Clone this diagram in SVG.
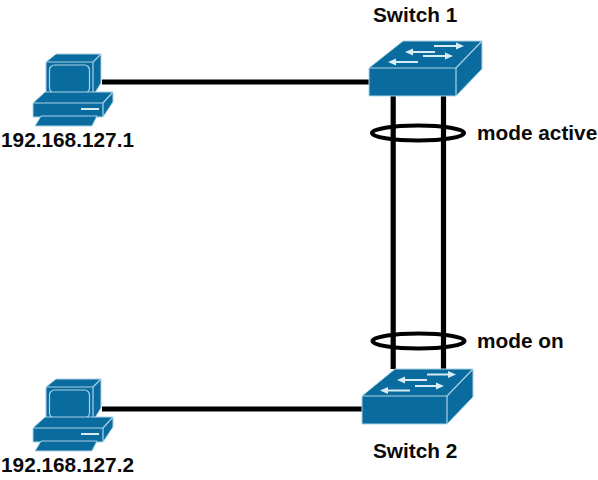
<svg xmlns="http://www.w3.org/2000/svg" xmlns:xlink="http://www.w3.org/1999/xlink" width="598" height="480" viewBox="0 0 598 480">
<style>
text{font-family:"Liberation Sans",Arial,sans-serif;font-weight:bold;font-size:20.8px;fill:#0a0a0a}
.b{fill:#0a6b9e;stroke:#a9d3e6;stroke-width:1;stroke-linejoin:round}
.w{fill:none;stroke:#a9d3e6;stroke-width:1.2}
.c{stroke:#000;stroke-width:5.2;fill:none}
.a{fill:#d8ecf4;stroke:none}
</style>
<defs>
<g id="pc">
<path class="b" d="M46 62L56 54H101V83L93 96H46Z"/>
<path class="w" d="M46 62H93V96M93 62L101 54"/>
<rect class="w" x="49.500" y="65" width="40" height="28" rx="5"/>
<path class="b" d="M33 103L45 92H113V102L103 117H33Z"/>
<path class="w" d="M33 103H103V117M103 103L113 92"/>
<path d="M81 109H99" stroke="#d8ecf4" stroke-width="2"/>
<path class="b" d="M41 116H97L92 126H35Z"/>
</g>
</defs>
<rect width="598" height="480" fill="#fff"/>
<g id="connectors">
<path class="c" d="M102 82H369M102 409H362"/>
<ellipse cx="418" cy="133" rx="46" ry="7.500" fill="none" stroke="#000" stroke-width="4"/>
<ellipse cx="418.500" cy="341" rx="46" ry="7.500" fill="none" stroke="#000" stroke-width="4"/>
<path class="c" d="M393.200 96V369M443.500 96V369"/>
</g>
<g id="pc1"><use xlink:href="#pc" href="#pc"/><text x="1" y="147">192.168.127.1</text></g>
<g id="pc2"><use xlink:href="#pc" href="#pc" y="325"/><text x="1" y="472">192.168.127.2</text></g>
<g id="switch1">
<path class="b" d="M369 68L403 41H482V69L456 96H369Z"/>
<path class="w" d="M369 68H456V96M456 68L482 41"/>
<path class="a" d="M434 45H456V42.500L464 46L456 49.500V47H434ZM405 52L413 48.500V51H435V53H413V55.500ZM423 55H445V52.500L453 56L445 59.500V57H423ZM388 62L396 58.500V61H418V63H396V65.500Z"/>
<text x="373" y="22">Switch 1</text>
</g>
<g id="switch2">
<path class="b" d="M362 396L395 369H473V397L447 424H362Z"/>
<path class="w" d="M362 396H447V424M447 396L473 369"/>
<path class="a" d="M427 373.500H448V371L456 374.500L448 378V375.500H427ZM397 380L405 376.500V379H427V381H405V383.500ZM415 385H436V382.500L444 386L436 389.500V387H415ZM380 390.500L388 387V389.500H410V391.500H388V394Z"/>
<text x="373" y="458">Switch 2</text>
</g>
<g id="labels">
<text x="477" y="140">mode active</text>
<text x="477" y="348">mode on</text>
</g>
</svg>
